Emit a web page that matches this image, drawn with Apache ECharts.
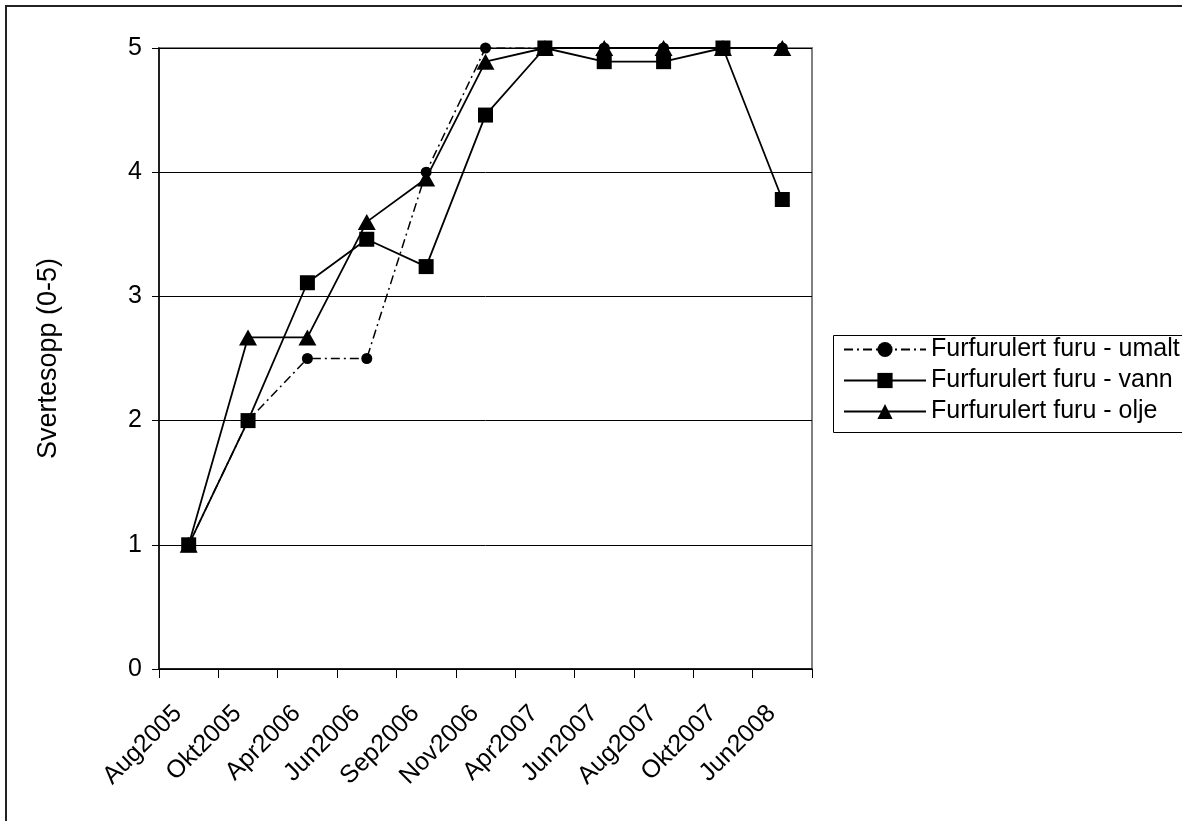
<!DOCTYPE html>
<html>
<head>
<meta charset="utf-8">
<script src="https://cdn.jsdelivr.net/npm/echarts@6/dist/echarts.min.js"></script>
<style>
  html, body { margin: 0; padding: 0; background: #fff; }
  #chart { width: 1182px; height: 821px; }
</style>
</head>
<body>
<div id="chart"></div>
<script>
// Sampling dates
const categories = ['Aug2005', 'Okt2005', 'Apr2006', 'Jun2006', 'Sep2006', 'Nov2006',
                    'Apr2007', 'Jun2007', 'Aug2007', 'Okt2007', 'Jun2008'];

// Blue-stain rating (0-5) per treatment
const umalt = [1, 2, 2.5, 2.5, 4, 5, 5, 5, 5, 5, 5];
const vann  = [1, 2, 3.11, 3.46, 3.24, 4.46, 5, 4.89, 4.89, 5, 3.78];
const olje  = [1, 2.67, 2.67, 3.6, 3.95, 4.89, 5, 5, 5, 5, 5];

const yTicks = [0, 1, 2, 3, 4, 5];

const FONT = '"Liberation Sans", Arial, sans-serif';

const chart = echarts.init(document.getElementById('chart'));

chart.setOption({
  animation: false,
  backgroundColor: '#fff',
  textStyle: { fontFamily: FONT },
  graphic: [
    {
      // chart-area frame
      type: 'rect',
      shape: { x: 6, y: 6, width: 1200, height: 900 },
      style: { fill: 'none', stroke: '#222', lineWidth: 2 },
      silent: true
    },
    {
      // legend frame
      type: 'rect',
      shape: { x: 833.5, y: 335.5, width: 400, height: 97 },
      style: { fill: 'none', stroke: '#000', lineWidth: 1 },
      silent: true
    }
  ],
  grid: {
    left: 159, top: 48, right: 370, bottom: 152,
    show: true, borderColor: '#808080', borderWidth: 2, backgroundColor: 'transparent'
  },
  legend: {
    orient: 'vertical',
    left: 843, top: 337,
    padding: 0,
    itemGap: 6,
    itemWidth: 82,
    itemHeight: 19,
    textStyle: { fontFamily: FONT, fontSize: 25, lineHeight: 25, color: '#000' },
    data: ['Furfurulert furu - umalt', 'Furfurulert furu - vann', 'Furfurulert furu - olje']
  },
  xAxis: {
    type: 'category',
    data: categories,
    boundaryGap: true,
    axisLine: { lineStyle: { color: '#000', width: 1.5 } },
    axisTick: { show: true, length: 9, lineStyle: { color: '#000' } },
    axisLabel: {
      rotate: 45, color: '#000', fontSize: 25, fontFamily: FONT,
      margin: 30, padding: [0, 15, 0, 0], interval: 0
    },
    splitLine: { show: false }
  },
  yAxis: {
    type: 'value',
    min: yTicks[0], max: yTicks[yTicks.length - 1], interval: 1,
    name: 'Svertesopp (0-5)',
    nameLocation: 'middle',
    nameGap: 97,
    nameRotate: 90,
    nameTextStyle: { fontSize: 27, color: '#000', fontFamily: FONT },
    axisLine: { show: true, lineStyle: { color: '#000', width: 1.5 } },
    axisTick: { show: true, length: 7, lineStyle: { color: '#000' } },
    axisLabel: { color: '#000', fontSize: 25, fontFamily: FONT, margin: 17 },
    splitLine: { show: true, lineStyle: { color: '#000', width: 1 } }
  },
  series: [
    {
      name: 'Furfurulert furu - umalt',
      type: 'line',
      data: umalt,
      symbol: 'circle',
      symbolSize: 11,
      itemStyle: { color: '#000' },
      lineStyle: { color: '#000', width: 1.5, type: [9, 4, 2, 4] },
      z: 3
    },
    {
      name: 'Furfurulert furu - vann',
      type: 'line',
      data: vann,
      symbol: 'rect',
      symbolSize: 15,
      itemStyle: { color: '#000' },
      lineStyle: { color: '#000', width: 1.8 },
      z: 4
    },
    {
      name: 'Furfurulert furu - olje',
      type: 'line',
      data: olje,
      symbol: 'triangle',
      symbolSize: [18, 16],
      itemStyle: { color: '#000' },
      lineStyle: { color: '#000', width: 1.8 },
      z: 5
    }
  ]
});
</script>
</body>
</html>
